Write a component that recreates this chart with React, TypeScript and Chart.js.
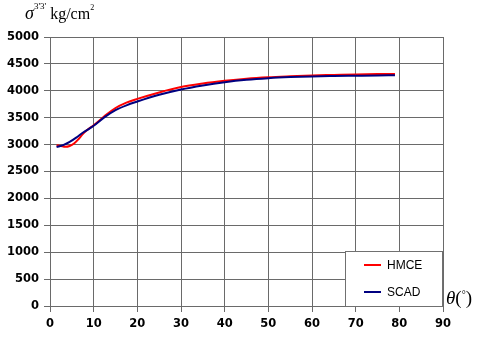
import React, { useEffect, useRef } from "react";
import { Chart, registerables } from "chart.js";

Chart.register(...registerables);

const xTicks = [0, 10, 20, 30, 40, 50, 60, 70, 80, 90];
const yTicks = [0, 500, 1000, 1500, 2000, 2500, 3000, 3500, 4000, 4500, 5000];

const hmceTheta = [1.5, 2.5, 3.5, 4.5, 5.5, 6.5, 7.5, 8.5, 10, 12.5, 15, 17.5, 20, 25, 30, 35, 40, 45, 50, 55, 60, 65, 70, 75, 79];
const hmceValues = [2990, 2975, 2960, 2975, 3020, 3100, 3195, 3270, 3360, 3530, 3680, 3780, 3850, 3970, 4070, 4135, 4185, 4225, 4252, 4270, 4285, 4295, 4305, 4310, 4312];

const scadTheta = [1.5, 3, 4.5, 6, 7.5, 10, 12.5, 15, 17.5, 20, 25, 30, 35, 40, 45, 50, 55, 60, 65, 70, 75, 79];
const scadValues = [2955, 2990, 3050, 3130, 3220, 3350, 3510, 3640, 3730, 3800, 3925, 4025, 4100, 4160, 4205, 4235, 4255, 4268, 4275, 4280, 4285, 4288];

const seriesLabels = ["HMCE", "SCAD"];
const seriesColors = ["#ff0000", "#000080"];

const gridColor = "#6a6a6a";
const tickFont = { family: "'DejaVu Sans', sans-serif", size: 11.5, weight: "bold" };

const legendPlugin = {
  id: "boxLegend",
  afterDraw(chart: any) {
    const { ctx, chartArea } = chart;
    const w = 98;
    const h = 55;
    const x = chartArea.right - w;
    const y = chartArea.bottom - h;
    ctx.save();
    ctx.fillStyle = "#ffffff";
    ctx.fillRect(x, y, w, h);
    ctx.strokeStyle = "#707070";
    ctx.lineWidth = 1;
    ctx.strokeRect(x + 0.5, y + 0.5, w - 1, h);
    ctx.font = "12px 'Liberation Sans', Arial, sans-serif";
    ctx.textBaseline = "middle";
    ctx.textAlign = "left";
    const rows = [y + 14, y + 41];
    seriesLabels.forEach((lab, i) => {
      ctx.strokeStyle = seriesColors[i];
      ctx.lineWidth = 2;
      ctx.beginPath();
      ctx.moveTo(x + 19, rows[i]);
      ctx.lineTo(x + 36, rows[i]);
      ctx.stroke();
      ctx.fillStyle = "#000000";
      ctx.fillText(lab, x + 42, rows[i] + 0.5);
    });
    ctx.restore();
  },
};

export default function App() {
  const canvasRef = useRef<HTMLCanvasElement | null>(null);

  useEffect(() => {
    document.body.style.margin = "0";
    const canvas = canvasRef.current;
    if (!canvas) return;
    const chart = new Chart(canvas, {
      type: "line",
      data: {
        datasets: [
          {
            label: seriesLabels[0],
            data: hmceTheta.map((t, i) => ({ x: t, y: hmceValues[i] })),
            borderColor: seriesColors[0],
            backgroundColor: seriesColors[0],
            borderWidth: 2,
            pointRadius: 0,
            cubicInterpolationMode: "monotone",
            order: 1,
          },
          {
            label: seriesLabels[1],
            data: scadTheta.map((t, i) => ({ x: t, y: scadValues[i] })),
            borderColor: seriesColors[1],
            backgroundColor: seriesColors[1],
            borderWidth: 2,
            pointRadius: 0,
            cubicInterpolationMode: "monotone",
            order: 0,
          },
        ],
      },
      options: {
        animation: false,
        responsive: false,
        maintainAspectRatio: false,
        layout: { padding: { left: 0, right: 37, top: 37, bottom: 0 } },
        plugins: {
          legend: { display: false },
          tooltip: { enabled: false },
          title: { display: false },
        },
        scales: {
          x: {
            type: "linear",
            min: xTicks[0],
            max: xTicks[xTicks.length - 1],
            afterBuildTicks: (axis: any) => {
              axis.ticks = xTicks.map((v) => ({ value: v }));
            },
            afterFit: (axis: any) => {
              axis.height = 31;
            },
            grid: { color: gridColor, lineWidth: 1, tickLength: 6, drawTicks: true },
            border: { display: true, color: gridColor, width: 1 },
            ticks: {
              color: "#000000",
              padding: 5,
              maxRotation: 0,
              autoSkip: false,
              font: tickFont,
              callback: (v: any) => String(v),
            },
          },
          y: {
            type: "linear",
            min: yTicks[0],
            max: yTicks[yTicks.length - 1],
            afterBuildTicks: (axis: any) => {
              axis.ticks = yTicks.map((v) => ({ value: v }));
            },
            afterFit: (axis: any) => {
              axis.width = 50;
            },
            grid: { color: gridColor, lineWidth: 1, tickLength: 6, drawTicks: true },
            border: { display: true, color: gridColor, width: 1 },
            ticks: {
              color: "#000000",
              padding: 5,
              autoSkip: false,
              font: tickFont,
              callback: (v: any) => String(v),
            },
          },
        },
      },
      plugins: [legendPlugin],
    } as any);
    return () => chart.destroy();
  }, []);

  const serif = "'Liberation Serif', 'Times New Roman', serif";

  return (
    <div style={{ position: "absolute", left: 0, top: 0, width: 480, height: 337, background: "#fff" }}>
      <canvas ref={canvasRef} width={480} height={337} style={{ position: "absolute", left: 0, top: 0, width: 480, height: 337 }} />
      <div style={{ position: "absolute", left: 25, top: 4, fontFamily: serif, fontSize: 18, lineHeight: 1, whiteSpace: "nowrap", color: "#000" }}>
        <span style={{ fontStyle: "italic" }}>σ</span>
        <span style={{ fontSize: 9, position: "relative", top: -10 }}>3'3'</span>
        <span style={{ fontSize: 16 }}> kg/cm</span>
        <span style={{ fontSize: 8, position: "relative", top: -9 }}>2</span>
      </div>
      <div style={{ position: "absolute", left: 446, top: 288, fontFamily: serif, fontSize: 19, lineHeight: 1, whiteSpace: "nowrap", color: "#000" }}>
        <span style={{ fontStyle: "italic" }}>θ</span>
        <span>(</span>
        <span style={{ fontSize: 10, position: "relative", top: -6 }}>°</span>
        <span>)</span>
      </div>
    </div>
  );
}
